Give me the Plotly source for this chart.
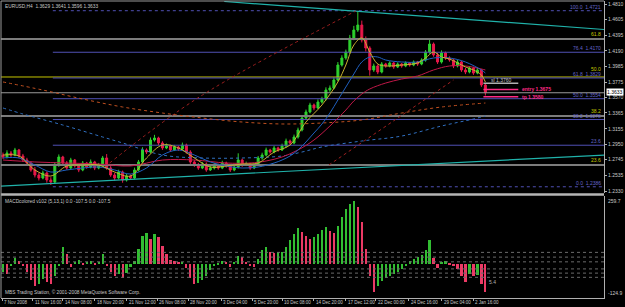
import plotly.graph_objects as go

# ---------------- data ----------------
bar_index = list(range(122))

open_ = [1.2807,1.2781,1.2834,1.2807,1.2874,1.2794,1.2741,1.2701,1.2609,1.2542,
         1.2502,1.2569,1.2476,1.2449,1.2675,1.2781,1.2701,1.2635,1.2741,1.2662,
         1.2609,1.2701,1.2648,1.2715,1.2635,1.2675,1.2768,1.2635,1.2542,1.2502,
         1.2582,1.2476,1.2529,1.2502,1.2609,1.2715,1.2874,1.2847,1.3006,1.3033,
         1.2967,1.2901,1.2927,1.2874,1.2914,1.2887,1.2940,1.2847,1.2715,1.2675,
         1.2635,1.2688,1.2609,1.2635,1.2675,1.2635,1.2701,1.2662,1.2609,1.2648,
         1.2741,1.2675,1.2688,1.2635,1.2675,1.2768,1.2807,1.2874,1.2847,1.2901,
         1.2874,1.2927,1.2993,1.2967,1.3046,1.3139,1.3298,1.3378,1.3471,1.3431,
         1.3510,1.3550,1.3669,1.3696,1.3802,1.4001,1.4094,1.4173,1.4359,1.4465,
         1.4531,1.4333,1.4226,1.3935,1.3988,1.3908,1.4014,1.3988,1.4028,1.3975,
         1.4014,1.3988,1.4028,1.4001,1.4041,1.4014,1.4067,1.4173,1.4279,1.4134,
         1.4041,1.4160,1.4094,1.4067,1.3988,1.4041,1.3935,1.3908,1.3961,1.3895,
         1.3935,1.3736]
high = [1.2840,1.2870,1.2861,1.2902,1.2888,1.2822,1.2770,1.2725,1.2650,1.2571,
        1.2601,1.2590,1.2512,1.2710,1.2815,1.2797,1.2729,1.2770,1.2755,1.2690,
        1.2728,1.2716,1.2748,1.2730,1.2702,1.2795,1.2820,1.2660,1.2570,1.2612,
        1.2600,1.2561,1.2548,1.2640,1.2742,1.2910,1.2895,1.3040,1.3075,1.3050,
        1.2990,1.2960,1.2945,1.2941,1.2930,1.2972,1.2958,1.2870,1.2738,1.2702,
        1.2715,1.2709,1.2668,1.2701,1.2692,1.2731,1.2719,1.2688,1.2675,1.2830,
        1.2760,1.2720,1.2705,1.2698,1.2795,1.2838,1.2905,1.2890,1.2929,1.2918,
        1.2958,1.3025,1.3012,1.3078,1.3170,1.3335,1.3410,1.3500,1.3490,1.3545,
        1.3580,1.3705,1.3730,1.3840,1.4040,1.4130,1.4205,1.4400,1.4520,1.4704,
        1.4590,1.4380,1.4250,1.4020,1.4010,1.4040,1.4030,1.4050,1.4042,1.4036,
        1.4028,1.4050,1.4041,1.4062,1.4055,1.4090,1.4200,1.4359,1.4300,1.4160,
        1.4195,1.4178,1.4115,1.4085,1.4070,1.4058,1.3962,1.3985,1.3978,1.3965,
        1.3950,1.3760]
low = [1.2755,1.2762,1.2780,1.2790,1.2765,1.2715,1.2670,1.2585,1.2510,1.2470,
       1.2485,1.2440,1.2410,1.2430,1.2650,1.2680,1.2610,1.2618,1.2640,1.2580,
       1.2592,1.2625,1.2630,1.2607,1.2618,1.2650,1.2612,1.2518,1.2470,1.2485,
       1.2440,1.2455,1.2478,1.2488,1.2590,1.2700,1.2820,1.2830,1.2985,1.2940,
       1.2875,1.2885,1.2850,1.2860,1.2862,1.2870,1.2825,1.2690,1.2650,1.2610,
       1.2620,1.2585,1.2595,1.2615,1.2612,1.2620,1.2640,1.2582,1.2592,1.2630,
       1.2650,1.2660,1.2610,1.2620,1.2660,1.2745,1.2790,1.2825,1.2830,1.2850,
       1.2860,1.2905,1.2945,1.2950,1.3025,1.3120,1.3275,1.3360,1.3400,1.3415,
       1.3490,1.3530,1.3645,1.3680,1.3785,1.3980,1.4070,1.4150,1.4330,1.4440,
       1.4300,1.4180,1.3860,1.3910,1.3880,1.3890,1.3965,1.3970,1.3950,1.3960,
       1.3965,1.3972,1.3980,1.3985,1.3990,1.3998,1.4045,1.4150,1.4110,1.4015,
       1.4020,1.4070,1.4045,1.3960,1.3970,1.3910,1.3880,1.3890,1.3870,1.3878,
       1.3710,1.3596]
close = [1.2781,1.2834,1.2807,1.2874,1.2794,1.2741,1.2701,1.2609,1.2542,1.2502,
         1.2569,1.2476,1.2449,1.2675,1.2781,1.2701,1.2635,1.2741,1.2662,1.2609,
         1.2701,1.2648,1.2715,1.2635,1.2675,1.2768,1.2635,1.2542,1.2502,1.2582,
         1.2476,1.2529,1.2502,1.2609,1.2715,1.2874,1.2847,1.3006,1.3033,1.2967,
         1.2901,1.2927,1.2874,1.2914,1.2887,1.2940,1.2847,1.2715,1.2675,1.2635,
         1.2688,1.2609,1.2635,1.2675,1.2635,1.2701,1.2662,1.2609,1.2648,1.2741,
         1.2675,1.2688,1.2635,1.2675,1.2768,1.2807,1.2874,1.2847,1.2901,1.2874,
         1.2927,1.2993,1.2967,1.3046,1.3139,1.3298,1.3378,1.3471,1.3431,1.3510,
         1.3550,1.3669,1.3696,1.3802,1.4001,1.4094,1.4173,1.4359,1.4465,1.4531,
         1.4333,1.4226,1.3935,1.3988,1.3908,1.4014,1.3988,1.4028,1.3975,1.4014,
         1.3988,1.4028,1.4001,1.4041,1.4014,1.4067,1.4173,1.4279,1.4134,1.4041,
         1.4160,1.4094,1.4067,1.3988,1.4041,1.3935,1.3908,1.3961,1.3895,1.3935,
         1.3736,1.3633]

macd_hist = [-30,-38,-8,23,11,-8,-30,-61,-84,-76,-57,-68,-76,-46,-8,65,38,-11,8,15,
             4,8,11,4,8,38,-8,-30,-46,-38,-53,-34,-11,11,57,106,118,95,114,103,
             68,38,15,11,8,8,-15,-53,-76,-72,-61,-46,-23,-8,4,11,8,-11,8,30,
             27,8,-8,-11,19,53,65,46,42,46,46,65,91,114,137,122,106,95,103,114,
             129,141,125,118,144,179,209,228,240,217,160,57,-46,-106,-84,-65,-53,-46,-38,-30,
             -19,-8,11,19,27,34,53,91,23,-15,8,11,4,-8,-19,-46,-68,-38,-46,-42,
             -76,-107]

# moving averages (bar index, price)
ma_fast_x = [0,4,8,12,16,20,24,28,32,36,40,44,48,52,56,60,64,68,72,76,80,84,86,88,90,92,94,96,100,104,106,108,110,112,116,118,120,121]
ma_fast_y = [1.2807,1.2794,1.2609,1.2529,1.2662,1.2675,1.2675,1.2582,1.2529,1.2768,1.2940,1.2901,1.2768,1.2648,1.2662,1.2688,1.2701,1.2847,1.2940,1.3245,1.3471,1.3776,1.4001,1.4266,1.4359,1.4173,1.4014,1.3988,1.4001,1.4028,1.4094,1.4173,1.4107,1.4081,1.3975,1.3935,1.3868,1.3776]
ma_mid_x = [0,4,8,12,16,20,24,28,32,36,40,44,48,52,56,60,64,68,70,72,74,76,78,80,82,84,86,88,90,92,94,96,100,104,108,112,116,120,121]
ma_mid_y = [1.2768,1.2768,1.2675,1.2582,1.2609,1.2635,1.2648,1.2609,1.2555,1.2635,1.2807,1.2874,1.2807,1.2715,1.2662,1.2635,1.2648,1.2701,1.2741,1.2794,1.2874,1.2980,1.3099,1.3218,1.3364,1.3537,1.3709,1.3882,1.4041,1.4107,1.4107,1.4067,1.4041,1.4041,1.4094,1.4094,1.4041,1.3935,1.3895]
ma_slow_x = [0,8,16,24,32,40,48,56,62,66,70,74,78,82,86,88,90,92,96,100,104,108,112,116,120,121]
ma_slow_y = [1.2741,1.2715,1.2701,1.2688,1.2662,1.2741,1.2741,1.2701,1.2701,1.2728,1.2781,1.2874,1.3006,1.3192,1.3404,1.3524,1.3616,1.3683,1.3762,1.3815,1.3855,1.3935,1.3988,1.3988,1.3948,1.3935]
ma_long_x = [0,5,15,25,30,40,50,60,70,75,80,90,100,110,118,121]
ma_long_y = [1.3431,1.3351,1.3205,1.3046,1.2967,1.2807,1.2768,1.2768,1.2794,1.2847,1.2914,1.2993,1.3059,1.3192,1.3285,1.3325]
env_x = [0,10,20,30,40,50,60,70,80,90,100,110,121]
env_y = [1.3776,1.3669,1.3550,1.3444,1.3364,1.3298,1.3245,1.3219,1.3232,1.3272,1.3364,1.3444,1.3497]

# trendlines (bar index, price)
tl_down_x, tl_down_y = [55.5, 150.75], [1.4843, 1.4472]
tl_up_x, tl_up_y = [-0.5, 150.75], [1.2396, 1.2807]
fan1_x, fan1_y = [26.75, 49.25, 88.5], [1.2701, 1.3577, 1.4717]
fan2_x, fan2_y = [81.75, 113.0], [1.2675, 1.3802]

# fibonacci (purple) levels
fib_levels = ["100.0", "76.4", "61.8", "50.0", "38.2", "23.6", "0.0"]
fib_prices = [1.4721, 1.4170, 1.3829, 1.3554, 1.3278, 1.2937, 1.2386]
fib_texts = ["100.0  1.4721", "76.4  1.4170", "61.8  1.3829", "50.0  1.3554",
             "38.2  1.3278", "23.6", "0.0  1.2386"]
# second fibonacci (yellow labels)
fib2_levels = ["61.8", "50.0", "38.2", "23.6"]
fib2_prices = [1.4346, 1.3842, 1.3325, 1.2675]
bid_price = 1.3633

# trade levels
trade_names = ["sl 1.3760", "entry 1.3675", "tp 1.3580"]
trade_prices = [1.3760, 1.3675, 1.3580]

# axis labels
price_ticks = [1.4810,1.4605,1.4395,1.4190,1.3985,1.3775,1.3570,1.3365,1.3155,1.2950,1.2745,1.2535,1.2330]
macd_levels = [45, 27, 9, -18, -34, -50]
date_labels = ["7 Nov 2008", "11 Nov 16:00", "14 Nov 08:00", "18 Nov 20:00", "21 Nov 12:00",
               "26 Nov 08:00", "28 Nov 20:00", "3 Dec 04:00", "5 Dec 20:00", "10 Dec 08:00",
               "14 Dec 20:00", "17 Dec 12:00", "22 Dec 00:00", "24 Dec 16:00", "29 Dec 04:00",
               "2 Jan 16:00"]
date_bars = [-0.25, 7.5, 15, 23, 31, 38.75, 46.5, 54.75, 62.5, 70, 78, 86, 93.5, 101.75, 110, 118]

# ---------------- styling ----------------
FONT = "Liberation Sans, Arial, sans-serif"
FS = 5
TXT = "#c8c8c8"
UP, DN = "#2ed12e", "#e8184a"
PURPLE = "#5050b4"
XR = [-0.5, 150.75]
X_END = 150.75
FIB_START = 12.5

fig = go.Figure()

def line(x, y, color, width=1, dash="solid", shape="linear", ax=("x", "y")):
    fig.add_trace(go.Scatter(x=x, y=y, mode="lines", line=dict(color=color, width=width, dash=dash, shape=shape),
                             xaxis=ax[0], yaxis=ax[1], hoverinfo="skip", showlegend=False))

# horizontal levels
for p in fib2_prices:
    if p == fib2_prices[1]:
        line([XR[0], X_END], [p, p], "#c4c400", 1)
    else:
        line([XR[0], X_END], [p, p], "#7c7c7c", 2)
line([XR[0], X_END], [bid_price, bid_price], "#9a9a9a", 1)
for lvl, p in zip(fib_levels, fib_prices):
    dash = "dot" if lvl in ("100.0", "0.0") else "solid"
    line([FIB_START, X_END], [p, p], PURPLE, 1, dash)

# trendlines
line(tl_down_x, tl_down_y, "#20b2aa", 1.2)
line(tl_up_x, tl_up_y, "#20b2aa", 1.2)
line(fan1_x, fan1_y, "#a02020", 1, "dot", "spline")
line(fan2_x, fan2_y, "#a02020", 1, "dot")
line(env_x, env_y, "#c05020", 1, "dot", "spline")
line(ma_long_x, ma_long_y, "#3070c0", 1, "dot", "spline")

# moving averages
line(ma_slow_x, ma_slow_y, "#c01848", 1, "solid", "spline")
line(ma_mid_x, ma_mid_y, "#2060c0", 1, "solid", "spline")
line(ma_fast_x, ma_fast_y, "#c8b030", 1, "solid", "spline")

# candles
fig.add_trace(go.Candlestick(x=bar_index, open=open_, high=high, low=low, close=close,
                             increasing=dict(line=dict(color=UP, width=1), fillcolor=UP),
                             decreasing=dict(line=dict(color=DN, width=1), fillcolor=DN),
                             whiskerwidth=0, hoverinfo="skip", showlegend=False,
                             xaxis="x", yaxis="y"))

# trade lines
for name, p in zip(trade_names, trade_prices):
    col = "#b0b0b0" if name.startswith("sl") else "#ff2a86"
    line([120.5, 129.25], [p, p], col, 1.5)

# MACD
macd_colors = []
prev = None
for v in macd_hist:
    macd_colors.append(UP if (prev is None or v >= prev) else DN)
    prev = v
for lv in macd_levels:
    line([XR[0], X_END], [lv, lv], "#6a6a6a", 1, "dot", ax=("x2", "y2"))
fig.add_trace(go.Bar(x=bar_index, y=macd_hist, width=0.55,
                     marker=dict(color=macd_colors, line=dict(width=0),
                                 pattern=dict(shape="-", fgcolor="#000000", size=2, solidity=0.3)),
                     xaxis="x2", yaxis="y2", hoverinfo="skip", showlegend=False))

# ---------------- layout ----------------
H_TOTAL = 297.0
main_bottom = (298 - 193) / H_TOTAL
macd_top = (298 - 196) / H_TOTAL
sep_y = (298 - 194.5) / H_TOTAL

annotations = []
def note(text, x, y, xref="x", yref="y", xanchor="left", yanchor="middle", color=TXT, size=FS, **kw):
    annotations.append(dict(text=text, x=x, y=y, xref=xref, yref=yref, xanchor=xanchor, yanchor=yanchor,
                            showarrow=False, font=dict(family=FONT, size=size, color=color), **kw))

for t, p in zip(fib_texts, fib_prices):
    note(t, 150.4, p, xanchor="right", yanchor="bottom", color="#6464c8", yshift=-1)
for t, p in zip(fib2_levels, fib2_prices):
    shift = 3 if t == "50.0" else 0
    note(t, 150.4, p, xanchor="right", yanchor="bottom", color="#c8c800", yshift=shift)

note(trade_names[0], 121.8, trade_prices[0], yanchor="bottom", color="#c0c0c0", yshift=-2)
note("<b>" + trade_names[1] + "</b>", 129.6, trade_prices[1], color="#ff2a86", yshift=1)
note("<b>" + trade_names[2] + "</b>", 129.8, trade_prices[2], color="#ff2a86")

note("EURUSD,H4  1.3629 1.3641 1.3596 1.3633", 0.003, 1, xref="paper", yref="paper", yanchor="top",
     yshift=-1, size=4.8)
note("MACDcolored v102 (5,13,1) 0.0 -107.5 0.0 -107.5", 0.003, macd_top, xref="paper", yref="paper",
     yanchor="top", yshift=-1, size=4.8)
note("MBS Trading Station, \u00a9 2001-2008 MetaQuotes Software Corp.", 0.003, 0, xref="paper", yref="paper",
     yanchor="bottom", yshift=1, size=4.8)
note("5.4", 121.4, -68, xref="x2", yref="y2", color="#b0b0b0")
note("259.7", 1, 259.8, xref="paper", yref="y2", yanchor="top", xshift=2)
note("-124.9", 1, -128.8, xref="paper", yref="y2", yanchor="bottom", xshift=2)
note("1.3633", 1, bid_price, xref="paper", yref="y", color="#000000", bgcolor="#ffffff", borderpad=0,
     xshift=2, yshift=1)

for t, b in zip(date_labels, date_bars):
    note(t, b, 0, xref="x2", yref="paper", yanchor="top", yshift=0, xshift=0, size=4.5)

shapes = [
    dict(type="line", xref="paper", yref="paper", x0=0, x1=1, y0=sep_y, y1=sep_y,
         line=dict(color="#b4b4b4", width=2.5)),
    dict(type="line", xref="paper", yref="paper", x0=0, x1=0, y0=0, y1=1, line=dict(color="#9a9a9a", width=1)),
    dict(type="line", xref="paper", yref="paper", x0=0, x1=1, y0=1, y1=1, line=dict(color="#9a9a9a", width=1)),
]

fig.update_layout(
    width=625, height=307,
    margin=dict(l=1, r=19, t=1, b=9),
    paper_bgcolor="#000000", plot_bgcolor="#000000",
    showlegend=False,
    bargap=0,
    font=dict(family=FONT, size=FS, color=TXT),
    xaxis=dict(domain=[0, 1], range=XR, anchor="y", showgrid=False, zeroline=False,
               showticklabels=False, ticks="", rangeslider=dict(visible=False), fixedrange=True),
    yaxis=dict(domain=[main_bottom, 1], range=[1.23035, 1.48498], anchor="x", side="right",
               tickvals=price_ticks, ticktext=["%.4f" % v for v in price_ticks],
               tickfont=dict(family=FONT, size=FS, color=TXT), ticks="outside", ticklen=2,
               tickcolor="#b0b0b0", showline=True, linecolor="#b0b0b0", linewidth=1,
               showgrid=False, zeroline=False, fixedrange=True),
    xaxis2=dict(domain=[0, 1], range=XR, anchor="y2", showgrid=False, zeroline=False,
                showticklabels=False, ticks="outside", ticklen=2, tickcolor="#b0b0b0",
                tickvals=date_bars, showline=True, linecolor="#b0b0b0", linewidth=1, fixedrange=True),
    yaxis2=dict(domain=[0, macd_top], range=[-128.8, 259.8], anchor="x2", side="right",
                showticklabels=False, ticks="", showline=True, linecolor="#b0b0b0", linewidth=1,
                showgrid=False, zeroline=False, fixedrange=True),
    annotations=annotations,
    shapes=shapes,
)

fig.write_html("out.html")
